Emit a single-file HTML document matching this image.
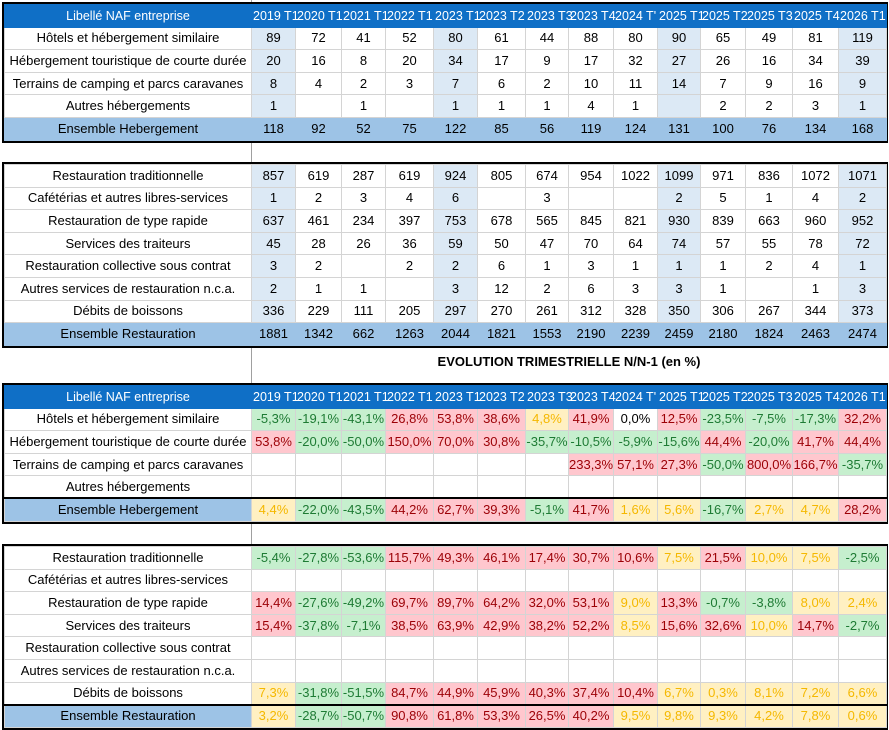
<!DOCTYPE html>
<html><head><meta charset="utf-8">
<style>
*{margin:0;padding:0;box-sizing:border-box}
body{width:889px;height:730px;background:#fff;position:relative;overflow:hidden;font-family:"Liberation Sans",Arial,sans-serif;font-size:13px;color:#000}
.w{position:absolute;left:2px;width:886px;border:2px solid #000}
table{border-collapse:collapse;table-layout:fixed;width:882px}
td{height:22.6px;border:1px solid #d4d4d4;text-align:center;white-space:nowrap;overflow:hidden;padding:0;line-height:20px}
tr.h td{background:#0f6fc6;color:#fff;border-color:#0f6fc6;overflow:visible;font-size:12.5px}
tr.h td:not(:first-child){text-align:left;padding-left:1px}
tr.e td{background:#9dc3e6;border-color:#9dc3e6}
tr.tp td{border-top:2px solid #000 !important}
.b{background:#dce9f5}
.g{background:#c6efce;color:#1e7b34}
.r{background:#ffc7ce;color:#9c0006}
.y{background:#fff0c2;color:#f5b800}
.vl{position:absolute;left:251px;width:1px;background:#a0a0a0}
.t{position:absolute;top:354px;left:251px;width:636px;text-align:center;font-weight:bold;font-size:13px}
</style></head><body>
<div class="vl" style="top:0;height:730px"></div>
<div class="t">EVOLUTION TRIMESTRIELLE N/N-1 (en %)</div>

<div class="w" style="top:2px">
<table>
<colgroup><col style="width:247px"><col style="width:44px"><col style="width:46px"><col style="width:44px"><col style="width:48px"><col style="width:44px"><col style="width:48px"><col style="width:43px"><col style="width:45px"><col style="width:44px"><col style="width:43px"><col style="width:45px"><col style="width:47px"><col style="width:46px"><col style="width:48px"></colgroup>
<tr class="h"><td style="text-align:center">Libellé NAF entreprise</td><td>2019 T1</td><td>2020 T1</td><td>2021 T1</td><td>2022 T1</td><td>2023 T1</td><td>2023 T2</td><td>2023 T3</td><td>2023 T4</td><td>2024 T'</td><td>2025 T1</td><td>2025 T2</td><td>2025 T3</td><td>2025 T4</td><td>2026 T1</td></tr>
<tr><td>Hôtels et hébergement similaire</td><td class="b">89</td><td>72</td><td>41</td><td>52</td><td class="b">80</td><td>61</td><td>44</td><td>88</td><td>80</td><td class="b">90</td><td>65</td><td>49</td><td>81</td><td class="b">119</td></tr>
<tr><td>Hébergement touristique de courte durée</td><td class="b">20</td><td>16</td><td>8</td><td>20</td><td class="b">34</td><td>17</td><td>9</td><td>17</td><td>32</td><td class="b">27</td><td>26</td><td>16</td><td>34</td><td class="b">39</td></tr>
<tr><td>Terrains de camping et parcs caravanes</td><td class="b">8</td><td>4</td><td>2</td><td>3</td><td class="b">7</td><td>6</td><td>2</td><td>10</td><td>11</td><td class="b">14</td><td>7</td><td>9</td><td>16</td><td class="b">9</td></tr>
<tr><td>Autres hébergements</td><td class="b">1</td><td></td><td>1</td><td></td><td class="b">1</td><td>1</td><td>1</td><td>4</td><td>1</td><td class="b"></td><td>2</td><td>2</td><td>3</td><td class="b">1</td></tr>
<tr class="e"><td>Ensemble Hebergement</td><td>118</td><td>92</td><td>52</td><td>75</td><td>122</td><td>85</td><td>56</td><td>119</td><td>124</td><td>131</td><td>100</td><td>76</td><td>134</td><td>168</td></tr>
</table></div>

<div class="w" style="top:162px">
<table>
<colgroup><col style="width:247px"><col style="width:44px"><col style="width:46px"><col style="width:44px"><col style="width:48px"><col style="width:44px"><col style="width:48px"><col style="width:43px"><col style="width:45px"><col style="width:44px"><col style="width:43px"><col style="width:45px"><col style="width:47px"><col style="width:46px"><col style="width:48px"></colgroup>
<tr><td>Restauration traditionnelle</td><td class="b">857</td><td>619</td><td>287</td><td>619</td><td class="b">924</td><td>805</td><td>674</td><td>954</td><td>1022</td><td class="b">1099</td><td>971</td><td>836</td><td>1072</td><td class="b">1071</td></tr>
<tr><td>Cafétérias et autres libres-services</td><td class="b">1</td><td>2</td><td>3</td><td>4</td><td class="b">6</td><td></td><td>3</td><td></td><td></td><td class="b">2</td><td>5</td><td>1</td><td>4</td><td class="b">2</td></tr>
<tr><td>Restauration de type rapide</td><td class="b">637</td><td>461</td><td>234</td><td>397</td><td class="b">753</td><td>678</td><td>565</td><td>845</td><td>821</td><td class="b">930</td><td>839</td><td>663</td><td>960</td><td class="b">952</td></tr>
<tr><td>Services des traiteurs</td><td class="b">45</td><td>28</td><td>26</td><td>36</td><td class="b">59</td><td>50</td><td>47</td><td>70</td><td>64</td><td class="b">74</td><td>57</td><td>55</td><td>78</td><td class="b">72</td></tr>
<tr><td>Restauration collective sous contrat</td><td class="b">3</td><td>2</td><td></td><td>2</td><td class="b">2</td><td>6</td><td>1</td><td>3</td><td>1</td><td class="b">1</td><td>1</td><td>2</td><td>4</td><td class="b">1</td></tr>
<tr><td>Autres services de restauration n.c.a.</td><td class="b">2</td><td>1</td><td>1</td><td></td><td class="b">3</td><td>12</td><td>2</td><td>6</td><td>3</td><td class="b">3</td><td>1</td><td></td><td>1</td><td class="b">3</td></tr>
<tr><td>Débits de boissons</td><td class="b">336</td><td>229</td><td>111</td><td>205</td><td class="b">297</td><td>270</td><td>261</td><td>312</td><td>328</td><td class="b">350</td><td>306</td><td>267</td><td>344</td><td class="b">373</td></tr>
<tr class="e"><td>Ensemble Restauration</td><td>1881</td><td>1342</td><td>662</td><td>1263</td><td>2044</td><td>1821</td><td>1553</td><td>2190</td><td>2239</td><td>2459</td><td>2180</td><td>1824</td><td>2463</td><td>2474</td></tr>
</table></div>

<div class="w" style="top:383px">
<table>
<colgroup><col style="width:247px"><col style="width:44px"><col style="width:46px"><col style="width:44px"><col style="width:48px"><col style="width:44px"><col style="width:48px"><col style="width:43px"><col style="width:45px"><col style="width:44px"><col style="width:43px"><col style="width:45px"><col style="width:47px"><col style="width:46px"><col style="width:48px"></colgroup>
<tr class="h"><td style="text-align:center">Libellé NAF entreprise</td><td>2019 T1</td><td>2020 T1</td><td>2021 T1</td><td>2022 T1</td><td>2023 T1</td><td>2023 T2</td><td>2023 T3</td><td>2023 T4</td><td>2024 T'</td><td>2025 T1</td><td>2025 T2</td><td>2025 T3</td><td>2025 T4</td><td>2026 T1</td></tr>
<tr><td>Hôtels et hébergement similaire</td><td class="g">-5,3%</td><td class="g">-19,1%</td><td class="g">-43,1%</td><td class="r">26,8%</td><td class="r">53,8%</td><td class="r">38,6%</td><td class="y">4,8%</td><td class="r">41,9%</td><td>0,0%</td><td class="r">12,5%</td><td class="g">-23,5%</td><td class="g">-7,5%</td><td class="g">-17,3%</td><td class="r">32,2%</td></tr>
<tr><td>Hébergement touristique de courte durée</td><td class="r">53,8%</td><td class="g">-20,0%</td><td class="g">-50,0%</td><td class="r">150,0%</td><td class="r">70,0%</td><td class="r">30,8%</td><td class="g">-35,7%</td><td class="g">-10,5%</td><td class="g">-5,9%</td><td class="g">-15,6%</td><td class="r">44,4%</td><td class="g">-20,0%</td><td class="r">41,7%</td><td class="r">44,4%</td></tr>
<tr><td>Terrains de camping et parcs caravanes</td><td></td><td></td><td></td><td></td><td></td><td></td><td></td><td class="r">233,3%</td><td class="r">57,1%</td><td class="r">27,3%</td><td class="g">-50,0%</td><td class="r">800,0%</td><td class="r">166,7%</td><td class="g">-35,7%</td></tr>
<tr><td>Autres hébergements</td><td></td><td></td><td></td><td></td><td></td><td></td><td></td><td></td><td></td><td></td><td></td><td></td><td></td><td></td></tr>
<tr class="tp"><td style="background:#9dc3e6">Ensemble Hebergement</td><td class="y">4,4%</td><td class="g">-22,0%</td><td class="g">-43,5%</td><td class="r">44,2%</td><td class="r">62,7%</td><td class="r">39,3%</td><td class="g">-5,1%</td><td class="r">41,7%</td><td class="y">1,6%</td><td class="y">5,6%</td><td class="g">-16,7%</td><td class="y">2,7%</td><td class="y">4,7%</td><td class="r">28,2%</td></tr>
</table></div>

<div class="w" style="top:544px">
<table>
<colgroup><col style="width:247px"><col style="width:44px"><col style="width:46px"><col style="width:44px"><col style="width:48px"><col style="width:44px"><col style="width:48px"><col style="width:43px"><col style="width:45px"><col style="width:44px"><col style="width:43px"><col style="width:45px"><col style="width:47px"><col style="width:46px"><col style="width:48px"></colgroup>
<tr><td>Restauration traditionnelle</td><td class="g">-5,4%</td><td class="g">-27,8%</td><td class="g">-53,6%</td><td class="r">115,7%</td><td class="r">49,3%</td><td class="r">46,1%</td><td class="r">17,4%</td><td class="r">30,7%</td><td class="r">10,6%</td><td class="y">7,5%</td><td class="r">21,5%</td><td class="y">10,0%</td><td class="y">7,5%</td><td class="g">-2,5%</td></tr>
<tr><td>Cafétérias et autres libres-services</td><td></td><td></td><td></td><td></td><td></td><td></td><td></td><td></td><td></td><td></td><td></td><td></td><td></td><td></td></tr>
<tr><td>Restauration de type rapide</td><td class="r">14,4%</td><td class="g">-27,6%</td><td class="g">-49,2%</td><td class="r">69,7%</td><td class="r">89,7%</td><td class="r">64,2%</td><td class="r">32,0%</td><td class="r">53,1%</td><td class="y">9,0%</td><td class="r">13,3%</td><td class="g">-0,7%</td><td class="g">-3,8%</td><td class="y">8,0%</td><td class="y">2,4%</td></tr>
<tr><td>Services des traiteurs</td><td class="r">15,4%</td><td class="g">-37,8%</td><td class="g">-7,1%</td><td class="r">38,5%</td><td class="r">63,9%</td><td class="r">42,9%</td><td class="r">38,2%</td><td class="r">52,2%</td><td class="y">8,5%</td><td class="r">15,6%</td><td class="r">32,6%</td><td class="y">10,0%</td><td class="r">14,7%</td><td class="g">-2,7%</td></tr>
<tr><td>Restauration collective sous contrat</td><td></td><td></td><td></td><td></td><td></td><td></td><td></td><td></td><td></td><td></td><td></td><td></td><td></td><td></td></tr>
<tr><td>Autres services de restauration n.c.a.</td><td></td><td></td><td></td><td></td><td></td><td></td><td></td><td></td><td></td><td></td><td></td><td></td><td></td><td></td></tr>
<tr><td>Débits de boissons</td><td class="y">7,3%</td><td class="g">-31,8%</td><td class="g">-51,5%</td><td class="r">84,7%</td><td class="r">44,9%</td><td class="r">45,9%</td><td class="r">40,3%</td><td class="r">37,4%</td><td class="r">10,4%</td><td class="y">6,7%</td><td class="y">0,3%</td><td class="y">8,1%</td><td class="y">7,2%</td><td class="y">6,6%</td></tr>
<tr class="tp"><td style="background:#9dc3e6">Ensemble Restauration</td><td class="y">3,2%</td><td class="g">-28,7%</td><td class="g">-50,7%</td><td class="r">90,8%</td><td class="r">61,8%</td><td class="r">53,3%</td><td class="r">26,5%</td><td class="r">40,2%</td><td class="y">9,5%</td><td class="y">9,8%</td><td class="y">9,3%</td><td class="y">4,2%</td><td class="y">7,8%</td><td class="y">0,6%</td></tr>
</table></div>
</body></html>
